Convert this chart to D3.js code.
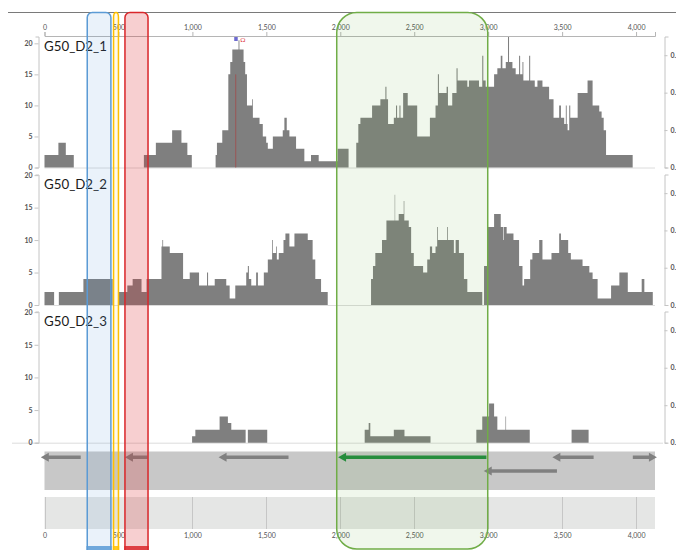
<!DOCTYPE html>
<html>
<head>
<meta charset="utf-8">
<script src="https://cdn.jsdelivr.net/npm/d3@7"></script>
<style>
  body { margin: 0; background: #fff; }
  svg { display: block; font-family: Lato, "Open Sans", sans-serif; }
</style>
</head>
<body>
<svg id="chart" width="676" height="550"></svg>
<script>
// ---- coverage data: bin start positions (bp) and read depth per bin ----
const trackNames = ["G50_D2_1", "G50_D2_2", "G50_D2_3"];

const cov1Start = [0, 94, 144, 198, 672, 753, 863, 926, 966, 996,
  1157, 1166, 1202, 1243, 1256, 1270, 1312, 1318, 1346, 1357, 1369, 1404, 1409, 1454, 1476, 1499, 1510,
  1544, 1611, 1622, 1638, 1656, 1701, 1757, 1802, 1854, 1982, 2056,
  2108, 2122, 2136, 2215, 2271, 2305, 2312, 2323, 2362, 2377, 2384, 2400, 2407, 2425, 2456, 2520,
  2606, 2644, 2660, 2667, 2719, 2728, 2757, 2786, 2793, 2859, 2870, 2908, 2938, 2960, 2967, 2983,
  3040, 3062, 3085, 3096, 3119, 3134, 3141, 3164, 3186, 3209, 3216, 3232, 3238, 3277, 3284, 3315,
  3333, 3367, 3412, 3442, 3480, 3492, 3514, 3525, 3531, 3537, 3548, 3555, 3605, 3672, 3706, 3751,
  3767, 3781, 3797, 3977];
const cov1Val = [2, 4, 2, 0, 2, 4, 6, 4, 2, 0,
  2, 4, 6, 15, 17, 19, 20.5, 19, 17, 15, 10, 11, 8, 7, 5, 4, 3,
  5, 6, 8, 6, 5, 3, 1, 2, 1, 3, 0,
  4, 7, 8, 10, 11, 13, 11, 7, 8, 10, 8, 10, 8, 12, 10, 5,
  8, 10, 15, 12, 13, 10, 12, 16, 14, 13, 14, 14, 13, 18, 14, 13,
  15, 16, 18, 16, 17, 21, 17, 16, 15, 18, 15, 17, 14, 18, 14, 13,
  14, 13, 11, 8, 10, 8, 7, 10, 7, 6, 10, 8, 12, 14, 10, 9,
  8, 6, 2, 0];

const cov2Start = [0, 65, 97, 263, 461, 501, 560, 596, 656, 690, 791, 797, 802, 847, 937, 982, 1045,
  1099, 1106, 1151, 1229, 1252, 1290, 1364, 1375, 1382, 1398, 1431, 1443, 1483, 1510, 1539, 1544,
  1566, 1571, 1584, 1616, 1629, 1656, 1690, 1780, 1813, 1831, 1870, 1915,
  2208, 2221, 2237, 2282, 2312, 2368, 2371, 2395, 2429, 2433, 2463, 2479, 2497, 2560, 2588, 2606,
  2621, 2644, 2655, 2660, 2723, 2728, 2768, 2780, 2802, 2836, 2859, 2960, 2972, 2994, 3040, 3085,
  3103, 3107, 3125, 3171, 3209, 3232, 3243, 3284, 3299, 3345, 3367, 3428, 3480, 3492, 3541, 3559,
  3638, 3684, 3706, 3740, 3831, 3887, 3944, 4038, 4056, 4113];
const cov2Val = [2, 0, 2, 4, 0, 2, 3, 4, 2, 4, 9, 10, 9, 8, 4, 5, 3,
  5, 3, 4, 3, 1, 3, 5, 6, 4, 3, 5, 3, 5, 7, 10, 8,
  9, 7, 8, 10, 11, 9, 11, 10, 7, 4, 2, 0,
  4, 6, 8, 10, 13, 17, 13, 14, 16, 13, 12, 8, 6, 5, 7, 9,
  8, 9, 12, 10, 12, 10, 8, 10, 8, 4, 2, 0, 6, 12, 14, 12,
  10, 12, 11, 10, 6, 3, 4, 7, 8, 10, 7, 8, 11, 10, 8, 7,
  6, 5, 4, 1, 3, 5, 2, 4, 2, 0];

const cov3Start = [998, 1020, 1184, 1240, 1263, 1360, 1375, 1506,
  2165, 2192, 2203, 2362, 2434, 2610, 2920, 2960, 3006, 3040, 3062, 3117, 3121, 3281, 3564, 3679];
const cov3Val = [1, 2, 4, 3, 2, 0, 2, 0,
  2, 3, 1, 2, 1, 0, 2, 4, 6, 4, 2, 4, 2, 0, 2, 0];

// ---- axis ticks ----
const positionTicks = [0, 500, 1000, 1500, 2000, 2500, 3000, 3500, 4000];
const depthTicks = [0, 5, 10, 15, 20];
const fractionTicks = [0, 0.2, 0.4, 0.6];

// ---- gene annotations ----
const geneStart  = [-25, 544, 1177, 1985, 3434, 3978, 2970];
const geneEnd    = [245, 697, 1650, 2988, 3713, 4141, 3465];
const geneStrand = ["-", "-", "-", "-", "-", "+", "-"];
const geneRow    = [0, 0, 0, 0, 0, 0, 1];
const geneActive = [false, false, false, true, false, false, false];

// ---- highlighted regions ----
const regionStart = [289, 467, 544, 1976];
const regionEnd   = [449, 500, 700, 2997];
const regionColor = ["#5b9bd5", "#ffc000", "#d9262a", "#70ad47"];
const regionAlpha = [0.13, 0.08, 0.22, 0.1];

// ---- marker ----
const markerPos = 1293;

const svg = d3.select("#chart");
const x = d3.scaleLinear().domain([0, 4128]).range([44.5, 655]);

// top rule
svg.append("line").attr("x1", 8).attr("x2", 676).attr("y1", 12.5).attr("y2", 12.5)
  .attr("stroke", "#7a7a7a").attr("stroke-width", 1);

// top position axis
const topAxis = svg.append("g").attr("transform", "translate(0,36)")
  .call(d3.axisTop(x).tickValues(positionTicks).tickFormat(d3.format(",")).tickSize(4).tickSizeOuter(4).tickPadding(2));
topAxis.select(".domain").attr("stroke", "#b5b5b5");
topAxis.selectAll(".tick line").attr("stroke", "#b5b5b5");
topAxis.selectAll("text").attr("font-size", 7).attr("fill", "#555").attr("font-family", "Lato, sans-serif");

const tracks = [
  { name: trackNames[0], s: cov1Start, v: cov1Val, ymax: 21.1, top: 36.5, base: 167.5 },
  { name: trackNames[1], s: cov2Start, v: cov2Val, ymax: 20.1, top: 174.5, base: 305 },
  { name: trackNames[2], s: cov3Start, v: cov3Val, ymax: 20.1, top: 311.5, base: 442.7 }
];

tracks.forEach((t, i) => {
  const y = d3.scaleLinear().domain([0, t.ymax]).range([t.base, t.top]);
  const yr = d3.scaleLinear().domain([0, 0.7]).range([t.base, t.top]);
  const g = svg.append("g");

  // baseline
  g.append("line")
    .attr("x1", i === 2 ? 12 : 44.5).attr("x2", i === 2 ? 663 : 655)
    .attr("y1", t.base + 0.5).attr("y2", t.base + 0.5)
    .attr("stroke", "#dcdcdc");

  // coverage histogram
  const pts = t.s.map((s, k) => ({ s: s, v: t.v[k] }));
  const area = d3.area()
    .x(d => x(d.s))
    .y0(t.base)
    .y1(d => y(d.v))
    .curve(d3.curveStepAfter);
  g.append("path").datum(pts).attr("d", area).attr("fill", "#7f7f7f");

  // left depth axis
  const la = g.append("g").attr("transform", "translate(38.5,0)")
    .call(d3.axisLeft(y).tickValues(depthTicks).tickSize(4).tickSizeOuter(3).tickPadding(2));
  la.select(".domain").attr("stroke", "#c4c4c4");
  la.selectAll(".tick line").attr("stroke", "#c4c4c4");
  la.selectAll("text").attr("font-size", 7).attr("fill", "#555").attr("font-weight", "bold")
    .attr("font-family", "Lato, sans-serif");

  // right fraction axis
  const ra = g.append("g").attr("transform", "translate(664.5,0)")
    .call(d3.axisRight(yr).tickValues(fractionTicks).tickFormat(d3.format(".1f")).tickSize(3).tickSizeOuter(4).tickPadding(3));
  ra.select(".domain").attr("stroke", "#c4c4c4");
  ra.selectAll(".tick line").attr("stroke", "#c4c4c4");
  ra.selectAll("text").attr("font-size", 7).attr("fill", "#555").attr("font-weight", "bold")
    .attr("font-family", "Lato, sans-serif");

  // track label
  g.append("text").attr("x", 44).attr("y", t.top + 14)
    .attr("font-size", 13.3).attr("fill", "#1a1a1a")
    .attr("font-family", "Lato, sans-serif")
    .text(t.name);

  if (i === 0) {
    // marker line and glyphs
    g.append("line").attr("x1", x(markerPos)).attr("x2", x(markerPos))
      .attr("y1", y(15)).attr("y2", t.base)
      .attr("stroke", "#a24a4a").attr("stroke-width", 0.8);
    g.append("rect").attr("x", x(markerPos) - 1.5).attr("y", 37).attr("width", 3.5).attr("height", 4)
      .attr("fill", "#6d6ad0");
    g.append("text").attr("x", x(markerPos) + 4.5).attr("y", 41.5)
      .attr("font-size", 6.5).attr("fill", "#e0404a").text("Ω");
  }
});

// gene track bands
svg.append("rect").attr("x", x(0)).attr("y", 451.5).attr("width", x(4128) - x(0)).attr("height", 38.5)
  .attr("fill", "#c8c8c8");
svg.append("rect").attr("x", x(0)).attr("y", 497).attr("width", x(4128) - x(0)).attr("height", 32)
  .attr("fill", "#e5e6e5");
svg.append("g").selectAll("line").data(positionTicks).join("line")
  .attr("x1", d => Math.round(x(d)) + 0.5).attr("x2", d => Math.round(x(d)) + 0.5)
  .attr("y1", 497).attr("y2", 529)
  .attr("stroke", "#c6c6c6");

// gene arrows
const rowY = [457.3, 471];
const genes = geneStart.map((s, k) => ({ s: s, e: geneEnd[k], strand: geneStrand[k], row: geneRow[k], active: geneActive[k] }));
svg.append("g").selectAll("path").data(genes).join("path")
  .attr("d", d => {
    const yc = rowY[d.row];
    const a = x(d.s), b = x(d.e);
    const hl = 8, hh = 4.5, sh = 1.8;
    if (d.strand === "-") {
      return `M${a},${yc} L${a + hl},${yc - hh} L${a + hl},${yc - sh} L${b},${yc - sh} L${b},${yc + sh} L${a + hl},${yc + sh} L${a + hl},${yc + hh} Z`;
    }
    return `M${b},${yc} L${b - hl},${yc - hh} L${b - hl},${yc - sh} L${a},${yc - sh} L${a},${yc + sh} L${b - hl},${yc + sh} L${b - hl},${yc + hh} Z`;
  })
  .attr("fill", d => d.active ? "#1f8a3c" : "#808080");

// bottom position labels
const bottomAxis = svg.append("g").attr("transform", "translate(0,530)")
  .call(d3.axisBottom(x).tickValues(positionTicks).tickFormat(d3.format(",")).tickSize(0).tickPadding(3));
bottomAxis.select(".domain").remove();
bottomAxis.selectAll("text").attr("font-size", 7).attr("fill", "#555").attr("font-family", "Lato, sans-serif");

// highlighted regions, drawn over everything
const regions = regionStart.map((s, k) => ({ s: s, e: regionEnd[k], c: regionColor[k], a: regionAlpha[k], wide: k === 3 }));
const rg = svg.append("g");
regions.forEach(r => {
  const x0 = x(r.s), x1 = x(r.e);
  if (r.wide) {
    rg.append("rect").attr("x", x0).attr("y", 12.5).attr("width", x1 - x0).attr("height", 536.5)
      .attr("rx", 20).attr("ry", 20)
      .attr("fill", r.c).attr("fill-opacity", r.a)
      .attr("stroke", r.c).attr("stroke-width", 1.5);
  } else {
    rg.append("rect").attr("x", x0).attr("y", 12.5).attr("width", x1 - x0).attr("height", 560)
      .attr("rx", 5).attr("ry", 5)
      .attr("fill", r.c).attr("fill-opacity", r.a)
      .attr("stroke", r.c).attr("stroke-width", 1.5);
    rg.append("rect").attr("x", x0 - 0.75).attr("y", 546).attr("width", x1 - x0 + 1.5).attr("height", 4)
      .attr("fill", r.c).attr("fill-opacity", 0.85);
  }
});
</script>
</body>
</html>
